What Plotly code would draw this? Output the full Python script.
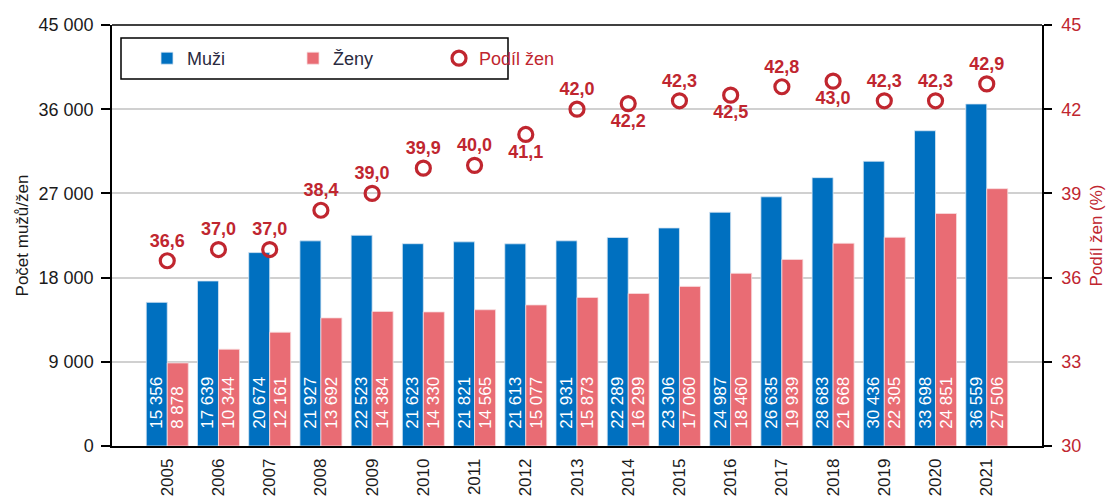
import plotly.graph_objects as go

years = [str(y) for y in range(2005, 2022)]
muzi = [15356, 17639, 20674, 21927, 22523, 21623, 21821, 21613, 21931, 22289,
        23306, 24987, 26635, 28683, 30436, 33698, 36559]
zeny = [8878, 10344, 12161, 13692, 14384, 14330, 14565, 15077, 15873, 16299,
        17060, 18460, 19939, 21668, 22305, 24851, 27506]
podil = [36.6, 37.0, 37.0, 38.4, 39.0, 39.9, 40.0, 41.1, 42.0, 42.2,
         42.3, 42.5, 42.8, 43.0, 42.3, 42.3, 42.9]
below = {"2012", "2014", "2016", "2018"}
label_pos = ["bottom center" if y in below else "top center" for y in years]

BLUE = "#0070C0"
PINK = "#E96C74"
RED = "#C0262F"
FONT = "Liberation Sans, Arial, sans-serif"

W, H = 1112, 499
L, R, T, B = 112, 70, 25, 53
PW, PH = W - L - R, H - T - B


def px_x(x):
    return (x - L) / PW


def px_y(y):
    return 1 - (y - T) / PH


fig = go.Figure()
for name, vals, col, edge in [("Muži", muzi, BLUE, "#D8E6F3"), ("Ženy", zeny, PINK, "#F8DCDE")]:
    fig.add_trace(go.Bar(
        x=years, y=vals, name=name, marker=dict(color=col, line=dict(color=edge, width=0.8)),
        texttemplate="\u00a0\u00a0\u00a0%{y:,d}", textposition="inside", insidetextanchor="start",
        textangle=-90, textfont=dict(color="white", size=17, family=FONT), constraintext="none",
    ))
fig.add_trace(go.Scatter(
    x=years, y=podil, yaxis="y2", mode="markers+text",
    name="<span style='color:#C0262F'>Podíl žen</span>",
    marker=dict(symbol="circle-open", size=14, color=RED, line=dict(width=3.2, color=RED)),
    texttemplate="%{y:.1f}", textposition=label_pos,
    textfont=dict(color=RED, size=18, family=FONT, weight="bold"), cliponaxis=False,
))

fig.update_layout(
    width=W, height=H,
    margin=dict(l=L, r=R, t=T, b=B, autoexpand=False),
    paper_bgcolor="white", plot_bgcolor="white",
    separators=", ",
    font=dict(family=FONT, size=18, color="#1A1A1A"),
    barmode="group", bargap=0.18, bargroupgap=0,
    showlegend=True,
    legend=dict(orientation="h", x=px_x(147), y=px_y(58.5), xanchor="left", yanchor="middle",
                borderwidth=0, bgcolor="rgba(0,0,0,0)",
                font=dict(size=18, color="#2A2A40"), entrywidth=101, itemwidth=30,
                traceorder="normal"),
    xaxis=dict(type="category", tickangle=-90, showline=True, linecolor="black", linewidth=1.5,
               ticks="", tickfont=dict(size=17, color="#1A1A1A"), showgrid=False,
               automargin=False, ticklabelstandoff=4),
    yaxis=dict(range=[0, 45000], dtick=9000, tickformat=",d", showgrid=True,
               gridcolor="#D0D0D0", gridwidth=1.5, showline=True, linecolor="black", linewidth=1.5,
               ticks="outside", ticklen=9, tickcolor="black", tickwidth=1.5,
               tickfont=dict(size=18, color="#1A1A1A"), ticklabelstandoff=4,
               title=dict(text="Počet mužů/žen", font=dict(size=17, color="#1A1A1A"), standoff=6),
               zeroline=False, automargin=False),
    yaxis2=dict(range=[30, 45], dtick=3, overlaying="y", side="right", showgrid=False,
                showline=True, linecolor="black", linewidth=1.5, ticks="outside", ticklen=8,
                tickcolor="black", tickwidth=1.5, tickfont=dict(size=18, color=RED),
                ticklabelstandoff=6,
                title=dict(text="Podíl žen (%)", font=dict(size=17, color=RED), standoff=10),
                zeroline=False, automargin=False),
)
# top border of plot area
fig.add_shape(type="line", xref="paper", yref="paper", x0=0, x1=1, y0=1, y1=1,
              line=dict(color="black", width=1.5))
# legend frame
fig.add_shape(type="rect", xref="paper", yref="paper",
              x0=px_x(121), x1=px_x(508), y0=px_y(79), y1=px_y(38),
              line=dict(color="black", width=1.5), fillcolor="white", layer="above")

fig.write_html("out.html", config={"displayModeBar": False},
               post_script="document.body.style.margin='0';document.body.style.overflow='hidden';")
